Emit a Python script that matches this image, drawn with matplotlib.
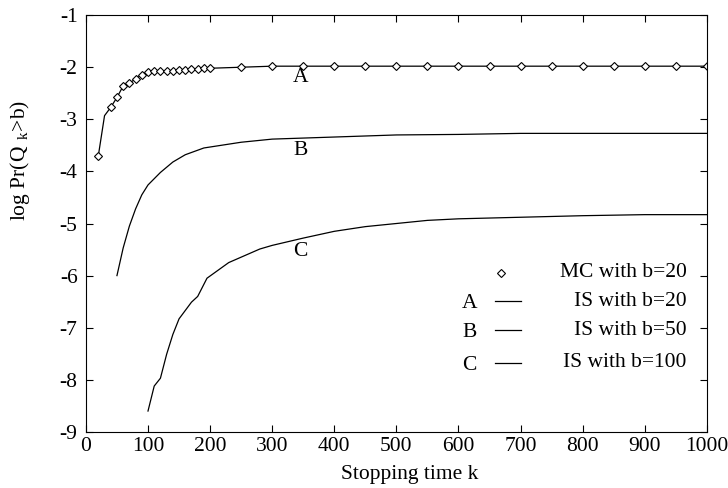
import matplotlib
matplotlib.use("Agg")
import matplotlib.pyplot as plt

plt.rcParams['font.family'] = ['Liberation Serif', 'DejaVu Serif']
plt.rcParams['axes.unicode_minus'] = False
plt.rcParams['mathtext.fontset'] = 'custom'
plt.rcParams['mathtext.rm'] = 'Liberation Serif'

# curve A / MC b=20
k_a = [20, 30, 40, 50, 60, 70, 80, 90, 100, 110, 120, 130, 140, 150, 160, 170, 180, 190, 200,
       250, 300, 350, 400, 450, 500, 550, 600, 650, 700, 750, 800, 850, 900, 950, 1000]
y_a = [-3.70, -2.93, -2.77, -2.58, -2.36, -2.30, -2.23, -2.14, -2.09, -2.08, -2.08, -2.08, -2.07,
       -2.06, -2.06, -2.04, -2.03, -2.01, -2.02, -2.00, -1.98, -1.98, -1.98, -1.98, -1.98, -1.98,
       -1.98, -1.98, -1.98, -1.98, -1.98, -1.98, -1.98, -1.98, -1.98]
k_mc = [20, 40, 50, 60, 70, 80, 90, 100, 110, 120, 130, 140, 150, 160, 170, 180, 190, 200,
        250, 300, 350, 400, 450, 500, 550, 600, 650, 700, 750, 800, 850, 900, 950, 1000]
y_mc = [-3.70, -2.77, -2.58, -2.36, -2.30, -2.23, -2.14, -2.09, -2.08, -2.08, -2.08, -2.07,
        -2.06, -2.06, -2.04, -2.03, -2.01, -2.02, -2.00, -1.98, -1.98, -1.98, -1.98, -1.98,
        -1.98, -1.98, -1.98, -1.98, -1.98, -1.98, -1.98, -1.98, -1.98, -1.98]

# curve B, b=50
k_b = [50, 60, 70, 80, 90, 100, 120, 140, 160, 190, 250, 300, 400, 500, 600, 700, 800, 900, 1000]
y_b = [-6.00, -5.47, -5.05, -4.72, -4.45, -4.26, -4.02, -3.82, -3.68, -3.55, -3.44, -3.38,
       -3.34, -3.30, -3.29, -3.27, -3.27, -3.27, -3.27]

# curve C, b=100
k_c = [100, 110, 120, 130, 140, 150, 170, 180, 195, 230, 280, 300, 350, 400, 450, 500, 550,
       600, 700, 800, 900, 1000]
y_c = [-8.60, -8.12, -7.97, -7.51, -7.13, -6.83, -6.51, -6.40, -6.05, -5.75, -5.49, -5.42,
       -5.28, -5.15, -5.06, -5.00, -4.94, -4.91, -4.88, -4.85, -4.83, -4.83]

fig = plt.figure(figsize=(7.28, 4.88), dpi=100)
ax = fig.add_axes([0.118, 0.115, 0.853, 0.854])

ax.plot(k_a, y_a, color='black', lw=0.9)
ax.plot(k_mc, y_mc, linestyle='none', marker='D', ms=4, mfc='white', mec='black', mew=0.8)
ax.plot(k_b, y_b, color='black', lw=0.9)
ax.plot(k_c, y_c, color='black', lw=0.9)

fs = 15.5
ax.text(345, -2.2, 'A', fontsize=fs, ha='center', va='center')
ax.text(345, -3.6, 'B', fontsize=fs, ha='center', va='center')
ax.text(345, -5.53, 'C', fontsize=fs, ha='center', va='center')

# legend drawn by hand, gnuplot style
leg_labels = ['MC with b=20', 'IS with b=20', 'IS with b=50', 'IS with b=100']
leg_letters = ['', 'A', 'B', 'C']
leg_y = [-5.95, -6.49, -7.05, -7.67]
for lab, let, yy in zip(leg_labels, leg_letters, leg_y):
    ax.text(967, yy, lab, fontsize=fs, ha='right', va='center')
    if lab.startswith('MC'):
        ax.plot([669], [yy], linestyle='none', marker='D', ms=4, mfc='white', mec='black', mew=0.8)
    else:
        ax.plot([658, 701], [yy, yy], color='black', lw=0.9)
        ax.text(618, yy - 0.05, let, fontsize=fs, ha='center', va='center')

ax.set_xlim(0, 1000)
ax.set_ylim(-9, -1)
ax.set_xticks(range(0, 1001, 100))
ax.set_yticks(range(-9, 0))
ax.tick_params(direction='in', top=True, right=True, labelsize=fs, length=5)
ax.tick_params(axis='y', pad=6)
ax.set_xlabel('Stopping time k', fontsize=fs)
ax.set_ylabel(r'log Pr(Q$\ _{\mathrm{k}}$>b)', fontsize=fs)
ax.xaxis.set_label_coords(0.522, -0.08)
ax.yaxis.set_label_coords(-0.087, 0.652)

fig.savefig('out.png', dpi=100)
